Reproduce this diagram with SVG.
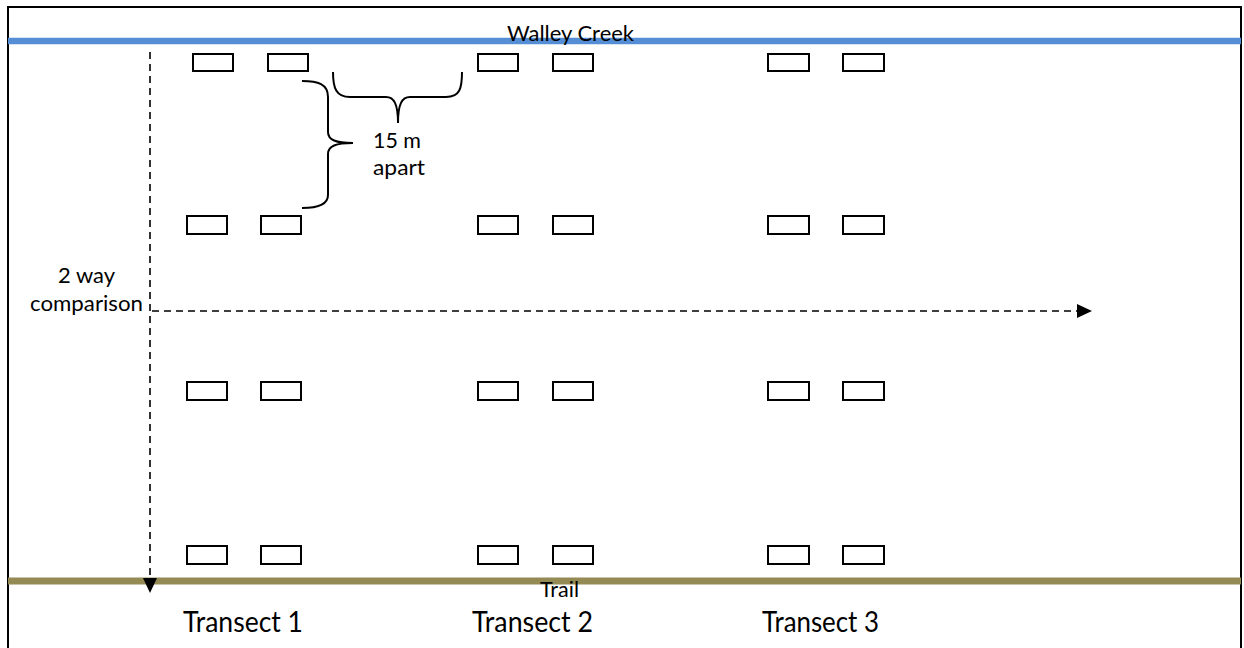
<svg xmlns="http://www.w3.org/2000/svg" width="1244" height="648" viewBox="0 0 1244 648">
<style>
.plot{fill:#ffffff;stroke:#000000;stroke-width:2}
.lbl{font-family:Lato,"Open Sans","Liberation Sans",sans-serif;fill:#000000}
.s{font-size:21.5px}
.l{font-size:28px}
.dash{fill:none;stroke:#000000;stroke-width:1.6;stroke-dasharray:7 5}
.brace{fill:none;stroke:#000000;stroke-width:2}
</style>
<defs>
<marker id="ah" markerWidth="15" markerHeight="14" refX="0" refY="7" orient="auto" markerUnits="userSpaceOnUse" viewBox="0 0 15 14">
<path d="M0,0 L15,7 L0,14 Z" fill="#000000"/>
</marker>
</defs>
<rect x="0" y="0" width="1244" height="648" fill="#ffffff"/>
<rect id="frame" x="8" y="7" width="1233" height="660" fill="none" stroke="#000000" stroke-width="2"/>
<g id="creek">
<line x1="8" y1="41" x2="1241" y2="41" stroke="#558ED5" stroke-width="6.5"/>
<text class="lbl s" x="507" y="41" textLength="127" lengthAdjust="spacingAndGlyphs">Walley Creek</text>
</g>
<g id="trail">
<line x1="8" y1="581" x2="1241" y2="581" stroke="#948A54" stroke-width="7"/>
<text class="lbl s" x="540" y="597" textLength="39" lengthAdjust="spacingAndGlyphs">Trail</text>
</g>
<g id="transect1">
<rect class="plot" x="193" y="54" width="40" height="17"/>
<rect class="plot" x="268" y="54" width="40" height="17"/>
<rect class="plot" x="187" y="216" width="40" height="18"/>
<rect class="plot" x="261" y="216" width="40" height="18"/>
<rect class="plot" x="187" y="382" width="40" height="18"/>
<rect class="plot" x="261" y="382" width="40" height="18"/>
<rect class="plot" x="187" y="546" width="40" height="18"/>
<rect class="plot" x="261" y="546" width="40" height="18"/>
<text class="lbl l" x="183" y="632" textLength="120" lengthAdjust="spacingAndGlyphs">Transect 1</text>
</g>
<g id="transect2">
<rect class="plot" x="478" y="54" width="40" height="17"/>
<rect class="plot" x="553" y="54" width="40" height="17"/>
<rect class="plot" x="478" y="216" width="40" height="18"/>
<rect class="plot" x="553" y="216" width="40" height="18"/>
<rect class="plot" x="478" y="382" width="40" height="18"/>
<rect class="plot" x="553" y="382" width="40" height="18"/>
<rect class="plot" x="478" y="546" width="40" height="18"/>
<rect class="plot" x="553" y="546" width="40" height="18"/>
<text class="lbl l" x="472" y="632" textLength="121" lengthAdjust="spacingAndGlyphs">Transect 2</text>
</g>
<g id="transect3">
<rect class="plot" x="768" y="54" width="41" height="17"/>
<rect class="plot" x="843" y="54" width="41" height="17"/>
<rect class="plot" x="768" y="216" width="41" height="18"/>
<rect class="plot" x="843" y="216" width="41" height="18"/>
<rect class="plot" x="768" y="382" width="41" height="18"/>
<rect class="plot" x="843" y="382" width="41" height="18"/>
<rect class="plot" x="768" y="546" width="41" height="18"/>
<rect class="plot" x="843" y="546" width="41" height="18"/>
<text class="lbl l" x="762" y="632" textLength="117" lengthAdjust="spacingAndGlyphs">Transect 3</text>
</g>
<g id="spacing">
<path class="brace" d="M302,81 C318,81 328,84 328,97 L328,132 C328,140 336,143 353,143 C336,143 328,146 328,154 L328,195 C328,205 318,208 302,208"/>
<path class="brace" d="M333,72 C333,88 336,97 350,97 L386,97 C394,97 398,104 398,123 C398,104 402,97 410,97 L446,97 C460,97 462,88 462,72"/>
<text class="lbl s" x="373" y="148" textLength="48" lengthAdjust="spacingAndGlyphs">15 m</text>
<text class="lbl s" x="373" y="175" textLength="52" lengthAdjust="spacingAndGlyphs">apart</text>
</g>
<g id="connectors">
<line class="dash" x1="150" y1="52" x2="150" y2="578" marker-end="url(#ah)"/>
<line class="dash" x1="152" y1="311" x2="1077" y2="311" marker-end="url(#ah)"/>
</g>
<g id="comparison">
<text class="lbl s" x="58" y="283" textLength="57" lengthAdjust="spacingAndGlyphs">2 way</text>
<text class="lbl s" x="30" y="311" textLength="113" lengthAdjust="spacingAndGlyphs">comparison</text>
</g>
</svg>
